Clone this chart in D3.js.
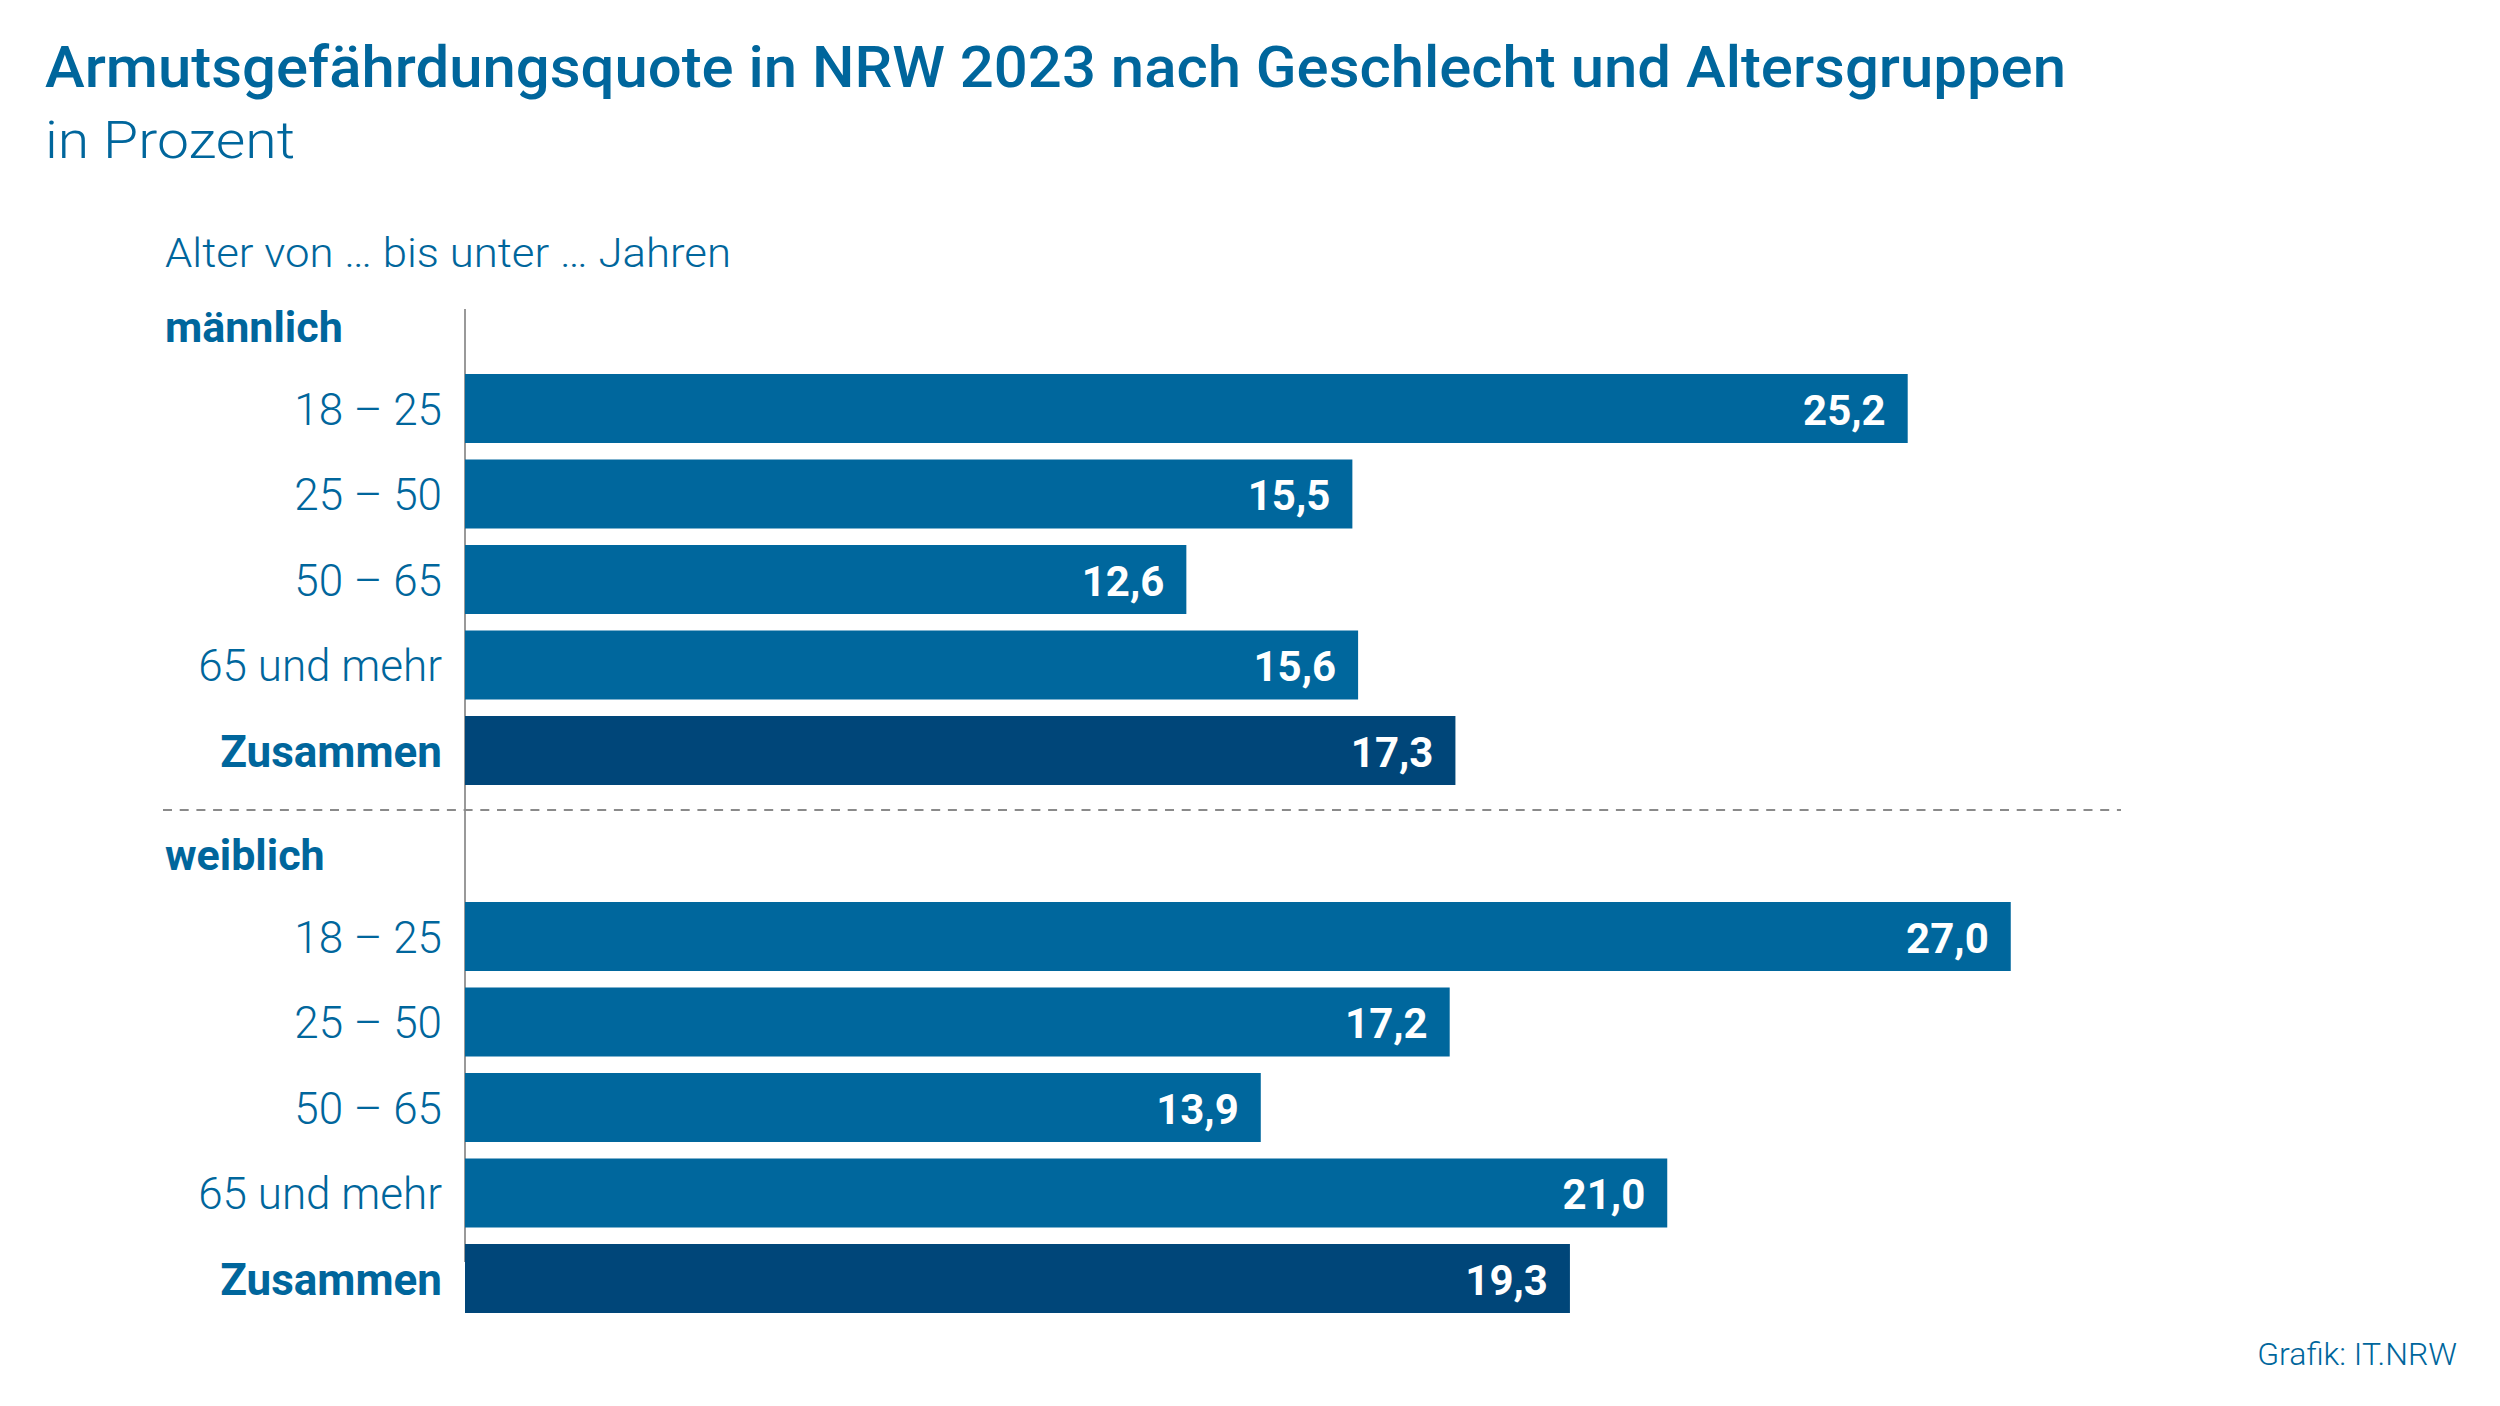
<!DOCTYPE html>
<html><head><meta charset="utf-8">
<script src="https://cdn.jsdelivr.net/npm/d3@7"></script>
<style>
html,body{margin:0;padding:0;background:#fff;}
svg{display:block;font-family:Roboto,"Open Sans",sans-serif;}
</style></head>
<body>
<svg id="chart" width="2500" height="1406"></svg>
<script>
const ageGroups = ["18 – 25", "25 – 50", "50 – 65", "65 und mehr", "Zusammen"];
const groups = ["männlich", "weiblich"];
const maleValues = [25.2, 15.5, 12.6, 15.6, 17.3];
const femaleValues = [27.0, 17.2, 13.9, 21.0, 19.3];
const titleText = "Armutsgefährdungsquote in NRW 2023 nach Geschlecht und Altersgruppen";
const subtitleText = "in Prozent";
const axisTitle = "Alter von … bis unter … Jahren";
const sourceText = "Grafik: IT.NRW";

const BLUE = "#00679d", DARK = "#004679", TEXT = "#00669c";
const svg = d3.select("#chart");
const fmt = v => d3.format(".1f")(v).replace(".", ",");

const x = d3.scaleLinear().domain([0, 30]).range([465, 465 + 30 * 57.25]);

svg.append("text").attr("x", 45).attr("y", 87).attr("fill", TEXT)
  .attr("font-size", 58).attr("font-weight", 500)
  .attr("textLength", 2021).attr("lengthAdjust", "spacingAndGlyphs").text(titleText);
svg.append("text").attr("x", 45).attr("y", 158).attr("fill", TEXT)
  .attr("font-size", 52).attr("font-weight", 300)
  .attr("textLength", 250).attr("lengthAdjust", "spacingAndGlyphs").text(subtitleText);
svg.append("text").attr("x", 165).attr("y", 267).attr("fill", TEXT)
  .attr("font-size", 40).attr("font-weight", 300)
  .attr("textLength", 566).attr("lengthAdjust", "spacingAndGlyphs").text(axisTitle);

// axis line
svg.append("line").attr("x1", x(0)).attr("x2", x(0)).attr("y1", 309).attr("y2", 1262)
  .attr("stroke", "#999").attr("stroke-width", 2);

// dashed separator
svg.append("line").attr("x1", 163).attr("x2", 2121).attr("y1", 810).attr("y2", 810)
  .attr("stroke", "#8a8a8a").attr("stroke-width", 2).attr("stroke-dasharray", "9,7.7");

const groupData = [
  {name: groups[0], values: maleValues, top: 374},
  {name: groups[1], values: femaleValues, top: 902}
];

groupData.forEach(g => {
  const y = d3.scaleBand().domain(ageGroups)
    .range([g.top, g.top + 5 * 85.5 - 16.5]).paddingInner(16.5 / 85.5).paddingOuter(0);
  const data = ageGroups.map((a, i) => ({age: a, value: g.values[i]}));
  const gg = svg.append("g");

  gg.append("text").attr("x", 165).attr("y", g.top - 32).attr("fill", TEXT)
    .attr("font-size", 43).attr("font-weight", 700).text(g.name);

  gg.selectAll("rect").data(data).join("rect")
    .attr("x", x(0)).attr("y", d => y(d.age))
    .attr("width", d => x(d.value) - x(0)).attr("height", y.bandwidth())
    .attr("fill", d => d.age === "Zusammen" ? DARK : BLUE);

  gg.selectAll("text.cat").data(data).join("text").attr("class", "cat")
    .attr("x", 442).attr("y", d => y(d.age) + y.bandwidth() / 2 + 16)
    .attr("text-anchor", "end").attr("fill", TEXT).attr("font-size", 44)
    .attr("font-weight", d => d.age === "Zusammen" ? 700 : 300)
    .text(d => d.age);

  gg.selectAll("text.val").data(data).join("text").attr("class", "val")
    .attr("x", d => x(d.value) - 22).attr("y", d => y(d.age) + y.bandwidth() / 2 + 16)
    .attr("text-anchor", "end").attr("fill", "#fff").attr("font-size", 42)
    .attr("font-weight", 700)
    .text(d => fmt(d.value));
});

svg.append("text").attr("x", 2457).attr("y", 1365).attr("text-anchor", "end")
  .attr("fill", TEXT).attr("font-size", 32).attr("font-weight", 300).text(sourceText);
</script>
</body></html>
